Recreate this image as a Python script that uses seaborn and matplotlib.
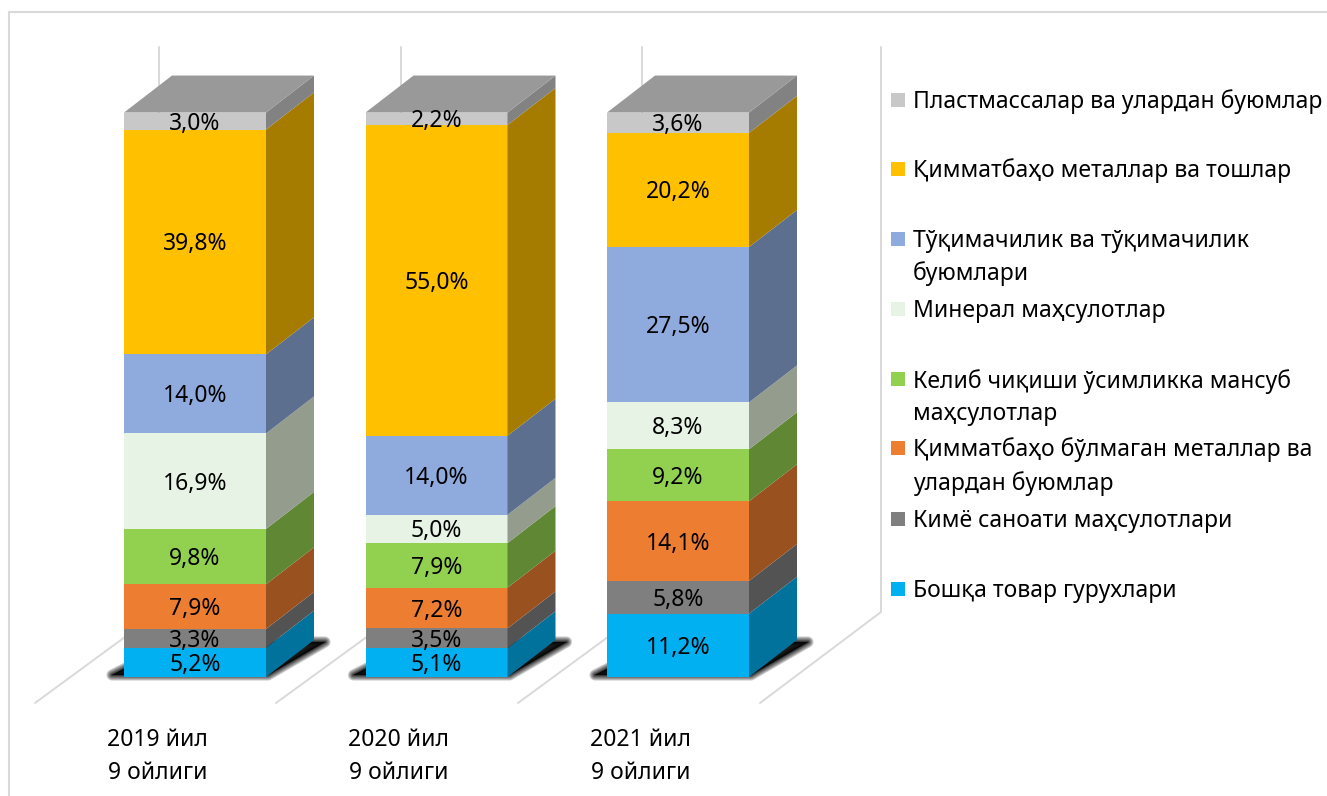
import numpy as np
import pandas as pd
import matplotlib
matplotlib.use("Agg")
import matplotlib.pyplot as plt
from matplotlib.patches import Rectangle
import seaborn as sns

categories = ["2019 йил\n9 ойлиги", "2020 йил\n9 ойлиги", "2021 йил\n9 ойлиги"]
series_names = ["Бошқа товар гурухлари", "Кимё саноати маҳсулотлари",
                "Қимматбаҳо бўлмаган металлар ва\nулардан буюмлар",
                "Келиб чиқиши ўсимликка мансуб\nмаҳсулотлар", "Минерал маҳсулотлар",
                "Тўқимачилик ва тўқимачилик\nбуюмлари", "Қимматбаҳо металлар ва тошлар",
                "Пластмассалар ва улардан буюмлар"]
other = [5.2, 5.1, 11.2]
chem = [3.3, 3.5, 5.8]
base_metals = [7.9, 7.2, 14.1]
plant = [9.8, 7.9, 9.2]
mineral = [16.9, 5.0, 8.3]
textile = [14.0, 14.0, 27.5]
precious = [39.8, 55.0, 20.2]
plastic = [3.0, 2.2, 3.6]
series_values = [other, chem, base_metals, plant, mineral, textile, precious, plastic]

front_colors = ["#00B0F0", "#7F7F7F", "#ED7D31", "#92D050", "#E7F3E4", "#8FAADC", "#FFC000", "#C8C8C8"]
side_colors = ["#00729C", "#535353", "#9A5120", "#5F8734", "#939C8D", "#5D6F8F", "#A67C00", "#828282"]
top_color = "#999999"
line_color = "#D9D9D9"

W, H = 1327, 796
X0, Y0 = 195.0, 677.0      # pixel position of the first category and of 0 %
SX, SY = 241.5, 5.65       # pixels per category and per percent
DX, DY = 48 / SX, 37 / SY  # depth of the 3-D box in data units
BAR = 142 / SX

FONT = "Noto Sans"
sns.set_theme(style="white", rc={"axes.grid": False})
plt.rcParams["font.family"] = [FONT, "DejaVu Sans"]
FS = 16.5

fig = plt.figure(figsize=(W / 100, H / 100), dpi=100, facecolor="white")
ax = fig.add_axes([0, 0, 1, 1])

def dx(px):
    return (px - X0) / SX

def dy(py):
    return (Y0 - py) / SY

# stacked front faces: the tallest cumulative totals go first
values = np.array(series_values)
cum = values.cumsum(axis=0)
for k in range(len(series_values) - 1, -1, -1):
    frame = pd.DataFrame({"cat": categories, "v": cum[k]})
    sns.barplot(data=frame, x="cat", y="v", color=front_colors[k], saturation=1,
                width=BAR, ax=ax, zorder=3, errorbar=None, linewidth=0, edgecolor="none")

ax.set_xlim(dx(0), dx(W))
ax.set_ylim(dy(H), dy(0))
ax.set_xticks([])
ax.set_yticks([])
ax.set_xlabel("")
ax.set_ylabel("")
for s in ax.spines.values():
    s.set_visible(False)
ax.patch.set_alpha(0)

# chart frame
ax.plot([dx(9), dx(9), dx(W)], [dy(H), dy(12.5), dy(12.5)], color=line_color, lw=1.5, zorder=0.5,
        solid_joinstyle="miter")

# wall and floor grid lines
for wall_x, floor_x in zip([159, 401, 642, 881], [35, 276, 518, 760]):
    ax.plot([dx(floor_x), dx(wall_x), dx(wall_x)], [dy(703), dy(612), dy(47)], color=line_color,
            lw=1.4, zorder=0.6)

for i in range(len(categories)):
    left, right = i - BAR / 2, i + BAR / 2
    # soft floor shadow built from stacked translucent outlines
    shadow_x = [left - 12 / SX, right + 2 / SX, right + DX + 11 / SX, left + DX + 5 / SX]
    shadow_y = [2 / SY, 2 / SY, 35 / SY, 35 / SY]
    for lw in [8, 6.5, 5, 3.5, 2.5, 1.5, 0.8, 0.1]:
        ax.fill(shadow_x, shadow_y, fc="black", ec="black", alpha=0.2, lw=lw, zorder=1,
                joinstyle="round")
    # side faces
    bottom = 0.0
    for k in range(len(series_values)):
        top = cum[k, i]
        ax.fill([right, right + DX, right + DX, right],
                [bottom, bottom + DY, top + DY, top],
                fc=side_colors[k], ec="none", zorder=4)
        bottom = top
    # lid
    ax.fill([left, right, right + DX, left + DX], [top, top, top + DY, top + DY],
            fc=top_color, ec="none", zorder=4)
    # labels
    bottom = 0.0
    for k in range(len(series_values)):
        h = values[k, i]
        ax.text(i, bottom + h / 2 - 2.5 / SY, f"{h:.1f}%".replace(".", ","), ha="center", va="center",
                fontsize=FS, color="black", zorder=6)
        bottom += h
    ax.text(i - 37.5 / SX, dy(756.5), categories[i], ha="center", va="center", fontsize=FS,
            color="black", linespacing=1.47, zorder=6)

# legend, top entry first, each row at its own reference height
legend_rows = [100, 169, 239, 309, 379, 448, 519, 589]
for name, col, row in zip(series_names[::-1], front_colors[::-1], legend_rows):
    ax.add_patch(Rectangle((dx(891), dy(row + 7)), 14 / SX, 14 / SY, fc=col, ec="none", zorder=5))
    n_lines = name.count("\n")
    ax.text(dx(913), dy(row + 2 + 33 * n_lines / 2), name, ha="left", va="center", fontsize=FS,
            color="black", linespacing=1.47, zorder=6)

fig.savefig("out.png", dpi=100)
